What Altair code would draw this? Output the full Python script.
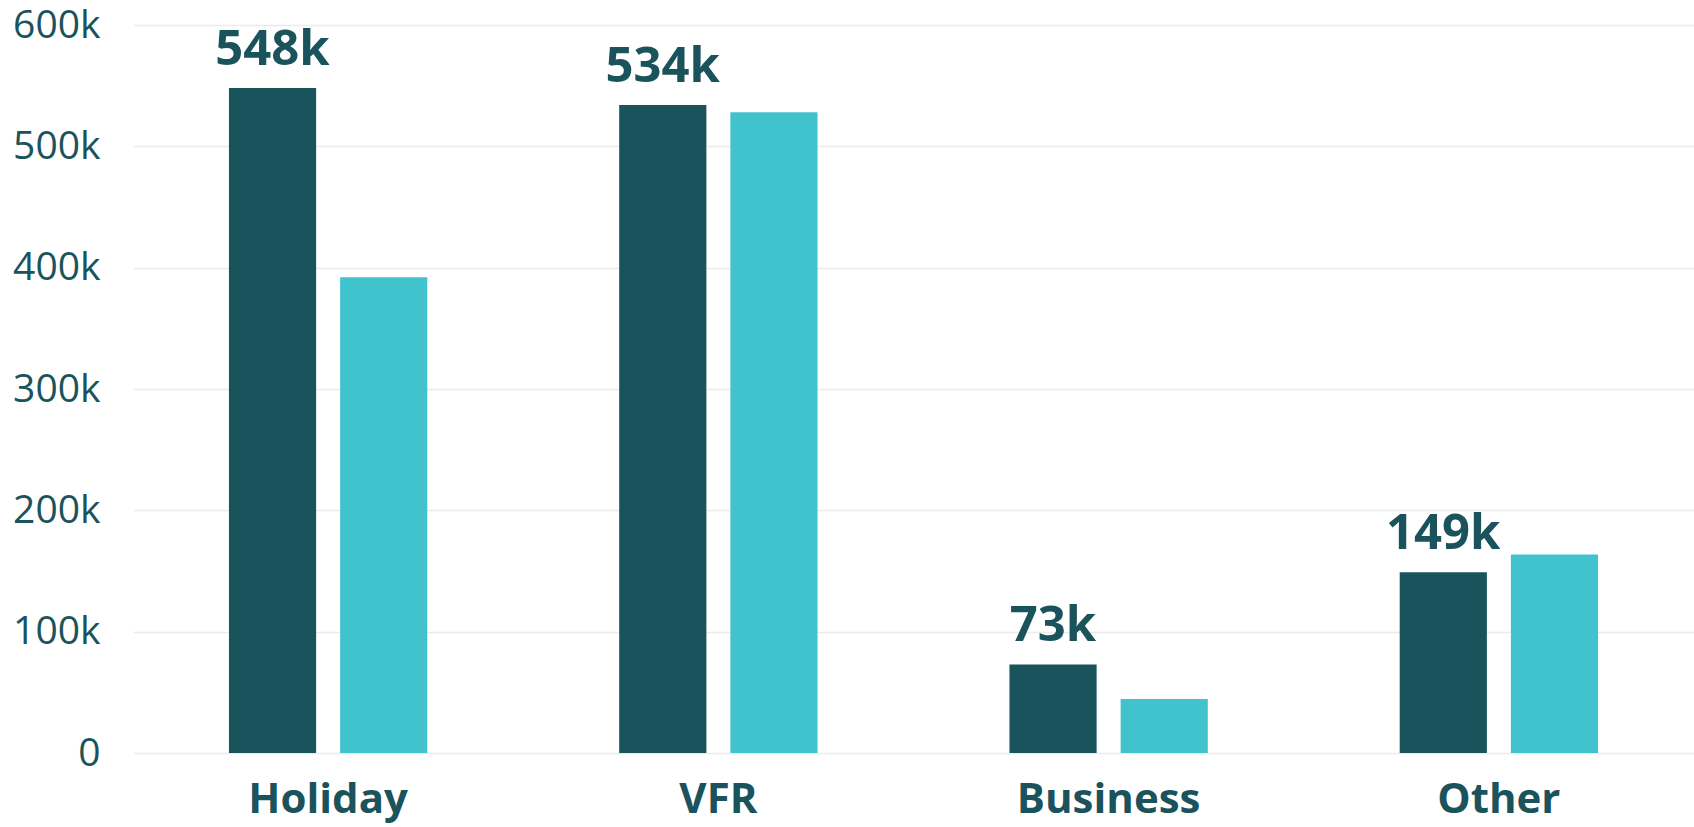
import altair as alt
import pandas as pd

categories = ["Holiday", "VFR", "Business", "Other"]
series_names = ["Series A", "Series B"]
series_a = [548000, 534000, 73000, 149000]
series_b = [392000, 528000, 44500, 163500]
labels_a = ["548k", "534k", "73k", "149k"]
y_ticks = [0, 100000, 200000, 300000, 400000, 500000, 600000]

rows = []
for c, a, b, lab in zip(categories, series_a, series_b, labels_a):
    rows.append({"category": c, "series": series_names[0], "value": a, "label": lab})
    rows.append({"category": c, "series": series_names[1], "value": b, "label": ""})
df = pd.DataFrame(rows)

DARK = "#19535b"
LIGHT = "#41c3cd"
TEXT = "#1a535c"
FONT = "Open Sans"

x_enc = alt.X(
    "category:N",
    sort=categories,
    scale=alt.Scale(paddingInner=0, paddingOuter=0),
    axis=alt.Axis(
        title=None, labelAngle=0, ticks=False, tickSize=0, domain=False,
        labelFontSize=42, labelFontWeight="bold", labelColor=TEXT,
        labelFont=FONT, labelPadding=26, grid=False, labelLimit=0,
    ),
)
xoff_enc = alt.XOffset(
    "series:N",
    sort=series_names,
    scale=alt.Scale(domain=series_names, paddingInner=0.216, paddingOuter=0.863),
)
y_enc = alt.Y(
    "value:Q",
    scale=alt.Scale(domain=[0, 600000], nice=False),
    axis=alt.Axis(
        title=None, values=y_ticks, format="~s", ticks=False, tickSize=0,
        domain=False, labelFontSize=39, labelColor=TEXT, labelFont=FONT,
        labelPadding=33, gridColor="#ebebeb", gridWidth=1.5,
        labelExpr="datum.value == 0 ? '0' : datum.label",
    ),
)

bars = alt.Chart(df).mark_bar().encode(
    x=x_enc,
    xOffset=xoff_enc,
    y=y_enc,
    color=alt.Color(
        "series:N",
        scale=alt.Scale(domain=series_names, range=[DARK, LIGHT]),
        legend=None,
    ),
)

text = alt.Chart(df).transform_filter(
    alt.datum.series == series_names[0]
).mark_text(
    align="center", baseline="alphabetic", dy=-23, fontSize=49,
    fontWeight="bold", color=TEXT, font=FONT,
).encode(
    x=x_enc,
    xOffset=xoff_enc,
    y=y_enc,
    text="label:N",
)

chart = alt.layer(bars, text).properties(
    width=1561,
    height=728,
    autosize=alt.AutoSizeParams(type="none"),
    padding={"left": 133, "top": 25, "right": 0, "bottom": 74},
    background="white",
).configure_view(stroke=None)

chart.save("out.html", embed_options={"renderer": "svg", "actions": False})
